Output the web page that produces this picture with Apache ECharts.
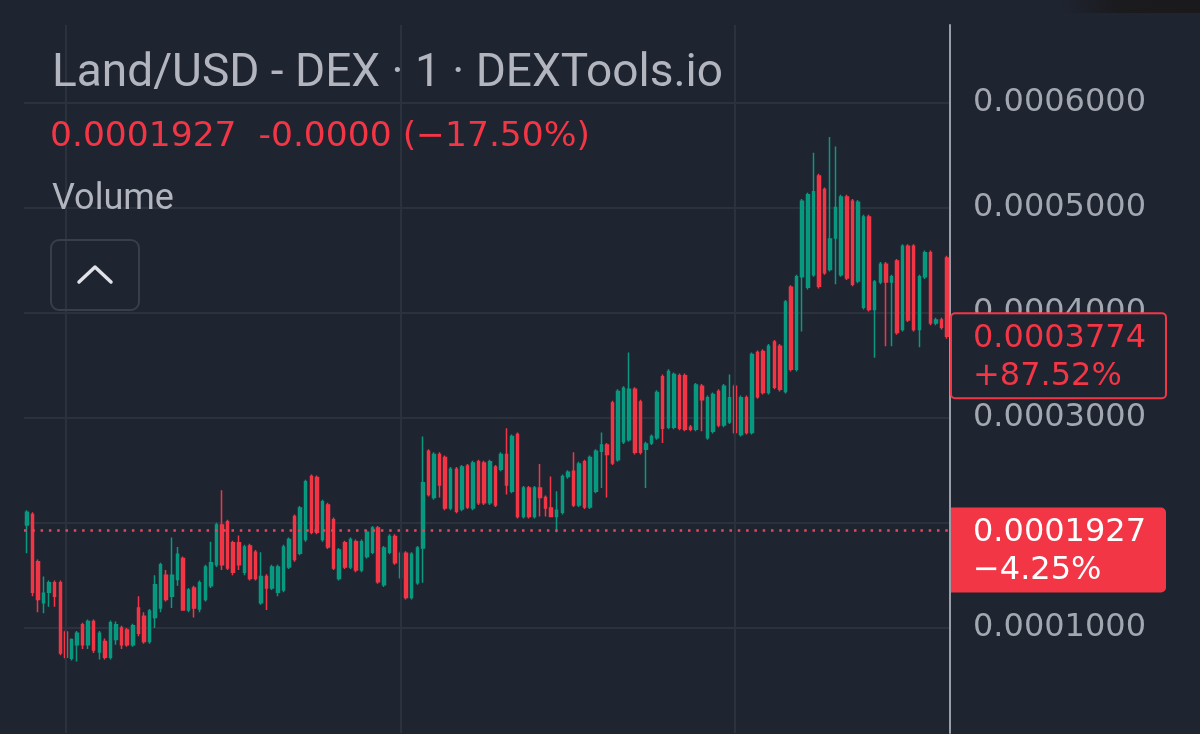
<!DOCTYPE html>
<html>
<head>
<meta charset="utf-8">
<script src="https://cdn.jsdelivr.net/npm/echarts@6/dist/echarts.min.js"></script>
<style>
html,body{margin:0;padding:0;background:#1f2431;}
#chart{width:1200px;height:734px;}
</style>
</head>
<body>
<div id="chart"></div>
<script>
// ---- data (prices in USD) ----
const opens = [
1.98e-4,2.08e-4,1.63e-4,1.24e-4,1.34e-4,1.43e-4,1.43e-4,0.96e-4,0.71e-4,0.84e-4,
1.03e-4,0.84e-4,1.06e-4,0.77e-4,0.87e-4,0.72e-4,0.89e-4,1.00e-4,0.98e-4,0.84e-4,
1.19e-4,1.11e-4,0.87e-4,1.10e-4,1.19e-4,1.50e-4,1.30e-4,1.46e-4,1.66e-4,1.17e-4,
1.38e-4,1.18e-4,1.27e-4,1.40e-4,1.60e-4,1.98e-4,2.01e-4,1.81e-4,1.81e-4,1.53e-4,
1.78e-4,1.72e-4,1.24e-4,1.49e-4,1.38e-4,1.34e-4,1.36e-4,1.58e-4,2.06e-4,1.71e-4,
1.84e-4,2.44e-4,2.43e-4,1.84e-4,2.17e-4,2.03e-4,1.47e-4,1.81e-4,1.58e-4,1.82e-4,
1.55e-4,1.68e-4,1.72e-4,1.95e-4,1.41e-4,1.72e-4,1.87e-4,1.48e-4,1.71e-4,1.29e-4,
1.43e-4,1.76e-4,2.68e-4,2.24e-4,2.65e-4,2.62e-4,2.14e-4,2.51e-4,2.13e-4,2.54e-4,
2.14e-4,2.58e-4,2.57e-4,2.19e-4,2.53e-4,2.51e-4,2.65e-4,2.30e-4,2.84e-4,2.06e-4,
2.33e-4,2.06e-4,2.33e-4,2.24e-4,2.14e-4,2.06e-4,2.10e-4,2.44e-4,2.49e-4,2.17e-4,
2.58e-4,2.15e-4,2.30e-4,2.68e-4,2.74e-4,3.14e-4,2.60e-4,2.77e-4,2.79e-4,3.27e-4,
3.15e-4,2.70e-4,2.76e-4,2.81e-4,3.39e-4,2.91e-4,2.91e-4,3.40e-4,3.40e-4,2.91e-4,
2.89e-4,3.30e-4,2.81e-4,2.87e-4,3.25e-4,2.93e-4,2.96e-4,3.30e-4,2.84e-4,3.19e-4,
2.86e-4,3.62e-4,3.63e-4,3.24e-4,3.72e-4,3.68e-4,3.25e-4,4.24e-4,3.46e-4,4.34e-4,
4.24e-4,4.36e-4,5.30e-4,5.17e-4,4.41e-4,4.71e-4,4.36e-4,5.10e-4,5.06e-4,4.30e-4,
4.05e-4,4.91e-4,4.03e-4,4.29e-4,4.46e-4,4.29e-4,4.49e-4,3.84e-4,4.63e-4,4.63e-4,
3.84e-4,4.34e-4,4.57e-4,3.90e-4,3.93e-4,4.52e-4
];
const closes = [
2.10e-4,1.34e-4,1.27e-4,1.33e-4,1.43e-4,1.30e-4,0.76e-4,0.72e-4,0.89e-4,0.95e-4,
0.84e-4,1.06e-4,0.79e-4,0.95e-4,0.72e-4,1.05e-4,1.03e-4,0.84e-4,0.84e-4,1.02e-4,
0.95e-4,0.87e-4,1.16e-4,1.41e-4,1.60e-4,1.27e-4,1.50e-4,1.70e-4,1.17e-4,1.36e-4,
1.19e-4,1.43e-4,1.58e-4,1.62e-4,1.98e-4,1.60e-4,1.57e-4,1.53e-4,1.60e-4,1.77e-4,
1.47e-4,1.47e-4,1.49e-4,1.38e-4,1.58e-4,1.58e-4,1.77e-4,1.84e-4,1.65e-4,2.14e-4,
2.39e-4,1.91e-4,1.91e-4,2.20e-4,1.77e-4,1.57e-4,1.74e-4,1.58e-4,1.84e-4,1.55e-4,
1.82e-4,1.91e-4,1.95e-4,1.44e-4,1.76e-4,1.87e-4,1.62e-4,1.71e-4,1.29e-4,1.70e-4,
1.76e-4,2.38e-4,2.27e-4,2.65e-4,2.36e-4,2.14e-4,2.51e-4,2.11e-4,2.53e-4,2.15e-4,
2.57e-4,2.19e-4,2.19e-4,2.58e-4,2.17e-4,2.65e-4,2.36e-4,2.82e-4,2.06e-4,2.33e-4,
2.06e-4,2.33e-4,2.24e-4,2.14e-4,2.06e-4,2.12e-4,2.44e-4,2.48e-4,2.17e-4,2.56e-4,
2.15e-4,2.62e-4,2.68e-4,2.74e-4,2.65e-4,2.57e-4,3.25e-4,3.28e-4,3.27e-4,2.67e-4,
2.67e-4,2.75e-4,2.82e-4,3.24e-4,2.90e-4,3.44e-4,3.41e-4,2.90e-4,2.89e-4,2.89e-4,
3.31e-4,3.17e-4,3.19e-4,3.22e-4,2.93e-4,3.30e-4,3.19e-4,2.86e-4,3.19e-4,2.86e-4,
3.60e-4,3.20e-4,3.24e-4,3.68e-4,3.29e-4,3.27e-4,4.10e-4,3.46e-4,4.34e-4,5.06e-4,
5.12e-4,5.15e-4,4.25e-4,4.38e-4,4.70e-4,5.00e-4,5.10e-4,4.33e-4,4.27e-4,5.05e-4,
4.91e-4,4.03e-4,4.29e-4,4.46e-4,4.29e-4,4.34e-4,3.81e-4,4.63e-4,3.93e-4,3.84e-4,
4.34e-4,4.57e-4,3.90e-4,3.93e-4,3.86e-4,3.774e-4
];
const lows = [
1.71e-4,1.30e-4,1.15e-4,1.14e-4,1.20e-4,1.20e-4,0.74e-4,0.70e-4,0.69e-4,0.68e-4,
0.80e-4,0.80e-4,0.76e-4,0.70e-4,0.70e-4,0.70e-4,0.84e-4,0.80e-4,0.82e-4,0.82e-4,
0.92e-4,0.85e-4,0.85e-4,1.00e-4,1.15e-4,1.25e-4,1.19e-4,1.40e-4,1.17e-4,1.15e-4,
1.10e-4,1.15e-4,1.25e-4,1.38e-4,1.58e-4,1.55e-4,1.55e-4,1.50e-4,1.55e-4,1.50e-4,
1.45e-4,1.45e-4,1.22e-4,1.17e-4,1.36e-4,1.30e-4,1.34e-4,1.56e-4,1.63e-4,1.69e-4,
1.82e-4,1.89e-4,1.89e-4,1.82e-4,1.75e-4,1.55e-4,1.45e-4,1.56e-4,1.56e-4,1.53e-4,
1.53e-4,1.66e-4,1.70e-4,1.42e-4,1.39e-4,1.70e-4,1.60e-4,1.46e-4,1.27e-4,1.27e-4,
1.41e-4,1.43e-4,2.25e-4,2.22e-4,2.24e-4,2.12e-4,2.12e-4,2.09e-4,2.11e-4,2.13e-4,
2.12e-4,2.17e-4,2.17e-4,2.17e-4,2.15e-4,2.49e-4,2.27e-4,2.28e-4,2.04e-4,2.04e-4,
2.04e-4,2.04e-4,2.06e-4,2.06e-4,2.06e-4,1.91e-4,2.08e-4,2.42e-4,2.15e-4,2.15e-4,
2.13e-4,2.13e-4,2.28e-4,2.33e-4,2.24e-4,2.55e-4,2.58e-4,2.75e-4,2.77e-4,2.65e-4,
2.65e-4,2.33e-4,2.74e-4,2.79e-4,2.76e-4,2.89e-4,2.89e-4,2.88e-4,2.87e-4,2.87e-4,
2.87e-4,2.87e-4,2.79e-4,2.85e-4,2.91e-4,2.91e-4,2.94e-4,2.84e-4,2.82e-4,2.84e-4,
2.84e-4,3.18e-4,3.22e-4,3.22e-4,3.27e-4,3.25e-4,3.23e-4,3.44e-4,3.44e-4,3.82e-4,
4.22e-4,4.34e-4,4.23e-4,4.36e-4,4.39e-4,4.27e-4,4.34e-4,4.31e-4,4.25e-4,4.28e-4,
4.03e-4,4.01e-4,3.57e-4,4.27e-4,3.68e-4,3.68e-4,3.79e-4,3.82e-4,3.91e-4,3.82e-4,
3.67e-4,4.32e-4,3.88e-4,3.88e-4,3.84e-4,3.75e-4
];
const highs = [
2.12e-4,2.10e-4,1.65e-4,1.49e-4,1.45e-4,1.45e-4,1.45e-4,0.98e-4,0.90e-4,0.97e-4,
1.05e-4,1.08e-4,1.08e-4,0.97e-4,0.90e-4,1.07e-4,1.06e-4,1.02e-4,1.00e-4,1.04e-4,
1.30e-4,1.15e-4,1.18e-4,1.50e-4,1.62e-4,1.55e-4,1.86e-4,1.77e-4,1.68e-4,1.38e-4,
1.40e-4,1.45e-4,1.60e-4,1.82e-4,2.00e-4,2.31e-4,2.03e-4,1.83e-4,1.88e-4,1.79e-4,
1.80e-4,1.74e-4,1.72e-4,1.51e-4,1.60e-4,1.60e-4,1.79e-4,1.86e-4,2.08e-4,2.16e-4,
2.41e-4,2.46e-4,2.45e-4,2.22e-4,2.19e-4,2.05e-4,1.76e-4,1.83e-4,1.86e-4,1.84e-4,
1.84e-4,1.93e-4,1.97e-4,1.97e-4,1.78e-4,1.89e-4,1.89e-4,1.73e-4,1.73e-4,1.72e-4,
1.78e-4,2.82e-4,2.70e-4,2.67e-4,2.67e-4,2.64e-4,2.53e-4,2.53e-4,2.55e-4,2.56e-4,
2.59e-4,2.60e-4,2.59e-4,2.60e-4,2.55e-4,2.67e-4,2.90e-4,2.84e-4,2.86e-4,2.35e-4,
2.35e-4,2.35e-4,2.56e-4,2.26e-4,2.44e-4,2.30e-4,2.46e-4,2.50e-4,2.67e-4,2.58e-4,
2.60e-4,2.64e-4,2.70e-4,2.86e-4,2.76e-4,3.16e-4,3.27e-4,3.30e-4,3.62e-4,3.29e-4,
3.17e-4,2.77e-4,2.84e-4,3.26e-4,3.41e-4,3.46e-4,3.43e-4,3.42e-4,3.42e-4,2.93e-4,
3.33e-4,3.32e-4,3.21e-4,3.24e-4,3.27e-4,3.32e-4,3.41e-4,3.32e-4,3.21e-4,3.21e-4,
3.62e-4,3.64e-4,3.65e-4,3.70e-4,3.74e-4,3.70e-4,4.12e-4,4.26e-4,4.36e-4,5.08e-4,
5.14e-4,5.52e-4,5.32e-4,5.19e-4,5.67e-4,5.58e-4,5.12e-4,5.12e-4,5.08e-4,5.07e-4,
4.93e-4,4.93e-4,4.31e-4,4.48e-4,4.48e-4,4.36e-4,4.51e-4,4.65e-4,4.65e-4,4.65e-4,
4.36e-4,4.59e-4,4.59e-4,3.95e-4,3.95e-4,4.54e-4
];
const categories = opens.map((_, i) => 'c' + i);

// y-axis ticks
const yMin = 0;
const yMax = 0.0006736;
const yStep = 0.0001;
const yDecimals = 7;

// vertical time grid lines (candle indices)
const timeGridIdx = [7, 67, 127];

// header / labels
const titleText = 'Land/USD - DEX \u00b7 1 \u00b7 DEXTools.io';
const quoteText = '0.0001927  -0.0000 (\u221217.50%)';
const volumeText = 'Volume';
const currentPrice = 0.0001927;
const currentPriceText = '0.0001927';
const currentChangeText = '\u22124.25%';
const lastClose = closes[closes.length - 1];
const lastCloseText = '0.0003774';
const lastChangeText = '+87.52%';

const BG = '#1f2431';
const UP = '#089981';
const DOWN = '#f23645';
const GRID = '#2b313d';

const chart = echarts.init(document.getElementById('chart'), null, {renderer: 'canvas'});

const option = {
  backgroundColor: BG,
  animation: false,
  grid: {left: 24, right: 250, top: 25, bottom: 1},
  xAxis: {
    type: 'category', data: categories, boundaryGap: true,
    axisLine: {show: false}, axisTick: {show: false}, axisLabel: {show: false}, splitLine: {show: false}
  },
  yAxis: {
    type: 'value', position: 'right', min: yMin, max: yMax, interval: yStep,
    axisLine: {show: true, lineStyle: {color: '#9a9ea8', width: 2}},
    axisTick: {show: false},
    axisLabel: {
      margin: 23, color: '#a3a7b0', fontFamily: 'DejaVu Sans', fontSize: 32,
      showMinLabel: false, showMaxLabel: false,
      formatter: v => v.toFixed(yDecimals)
    },
    splitLine: {show: true, showMinLine: false, showMaxLine: false, lineStyle: {color: GRID, width: 2}}
  },
  series: [
    {
      type: 'line', data: [], z: 1, silent: true,
      markLine: {
        silent: true, symbol: ['none', 'none'], label: {show: false},
        lineStyle: {color: GRID, width: 2, type: 'solid'},
        data: timeGridIdx.map(i => ({xAxis: i}))
      }
    },
    {
      type: 'candlestick', z: 3, barWidth: 3,
      data: opens.map((o, i) => [o, closes[i], lows[i], highs[i]]),
      itemStyle: {color: UP, color0: DOWN, borderColor: UP, borderColor0: DOWN, borderWidth: 1.5}
    },
    {
      type: 'line', data: [], z: 4, silent: true,
      markLine: {
        silent: true, precision: 8, symbol: ['none', 'none'], label: {show: false},
        lineStyle: {color: '#e8455a', width: 2.5, type: [2.5, 5.8], opacity: 1},
        data: [{yAxis: currentPrice}]
      }
    }
  ]
};
chart.setOption(option);

function priceBox(price, line1, line2, filled) {
  const y0 = chart.convertToPixel({yAxisIndex: 0}, price);
  const txtColor = filled ? '#ffffff' : DOWN;
  return [
    {type: 'rect', z: 200, zlevel: 1, shape: {x: 951, y: y0 - 23, width: 215, height: 85, r: filled ? [0, 5, 5, 0] : 4},
     style: filled ? {fill: DOWN} : {fill: BG, stroke: DOWN, lineWidth: 2}},
    {type: 'text', z: 201, zlevel: 1, x: 973, y: y0 + 2, style: {text: line1, fill: txtColor, font: '32px "DejaVu Sans"', verticalAlign: 'middle', align: 'left'}},
    {type: 'text', z: 201, zlevel: 1, x: 973, y: y0 + 40, style: {text: line2, fill: txtColor, font: '32px "DejaVu Sans"', verticalAlign: 'middle', align: 'left'}}
  ];
}

chart.setOption({
  graphic: [
    {type: 'text', x: 52, y: 74, z: 100, style: {text: titleText, fill: '#b2b5be', font: '46px Roboto', verticalAlign: 'middle'}},
    {type: 'text', x: 50, y: 137, z: 100, style: {text: quoteText, fill: DOWN, font: '34.5px "DejaVu Sans"', verticalAlign: 'middle'}},
    {type: 'text', x: 52, y: 200, z: 100, style: {text: volumeText, fill: '#b2b5be', font: '36px Roboto', verticalAlign: 'middle'}},
    {type: 'rect', z: 100, shape: {x: 51, y: 240, width: 88, height: 70, r: 8}, style: {fill: 'transparent', stroke: '#383e4a', lineWidth: 2}},
    {type: 'polyline', z: 101, shape: {points: [[79, 282], [95, 267], [111, 282]]}, style: {stroke: '#dfe2e8', lineWidth: 3.5, lineCap: 'round', lineJoin: 'round', fill: 'none'}},
    {type: 'rect', z: 100, shape: {x: 1060, y: 0, width: 140, height: 13},
     style: {fill: new echarts.graphic.LinearGradient(0, 0, 1, 0, [{offset: 0, color: 'rgba(26,26,28,0)'}, {offset: 0.4, color: 'rgba(26,26,28,0.9)'}, {offset: 1, color: '#1a1a1c'}])}}
  ].concat(priceBox(lastClose, lastCloseText, lastChangeText, false),
           priceBox(currentPrice, currentPriceText, currentChangeText, true))
});
</script>
</body>
</html>
